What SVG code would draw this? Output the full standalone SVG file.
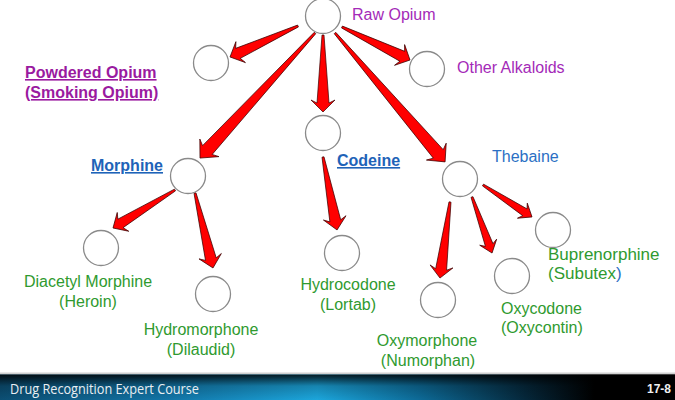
<svg xmlns="http://www.w3.org/2000/svg" width="675" height="400" viewBox="0 0 675 400">
<style>
.nd{fill:#fff;stroke:#8a8a8a;stroke-width:1.3}
.ar{fill:#ff0000;stroke:#3a0000;stroke-width:0.7;stroke-linejoin:miter}
text{font-family:"Liberation Sans",Arial,sans-serif;font-size:16px}
.pu{fill:#a42ab8}
.pb{fill:#9a1aa0;font-weight:bold;text-decoration:underline}
.bb{fill:#1e63b8;font-weight:bold;text-decoration:underline}
.bl{fill:#2b6fc4}
.gr{fill:#2f9a2f}
.c{text-anchor:middle}
</style>
<defs>
<linearGradient id="bar" x1="0" y1="0" x2="1" y2="0">
<stop offset="0" stop-color="#0c4f74"/>
<stop offset="0.25" stop-color="#1276a8"/>
<stop offset="0.47" stop-color="#1ca6dc"/>
<stop offset="0.62" stop-color="#0d6b98"/>
<stop offset="0.78" stop-color="#05273a"/>
<stop offset="0.88" stop-color="#000"/>
<stop offset="1" stop-color="#000"/>
</linearGradient>
<linearGradient id="shade" x1="0" y1="0" x2="0" y2="1">
<stop offset="0" stop-color="#000" stop-opacity="0.85"/>
<stop offset="0.45" stop-color="#000" stop-opacity="0.2"/>
<stop offset="1" stop-color="#000" stop-opacity="0"/>
</linearGradient>
</defs>
<rect width="675" height="400" fill="#fff"/>

<g id="connectors">
<polygon class="ar" transform="translate(298,26) rotate(155.5)" points="0,-1 66,-5.5 63,-11.5 74.7,0 63,11.5 66,5.5 0,1"/>
<polygon class="ar" transform="translate(342,27) rotate(25.9)" points="0,-1 67,-5.5 64,-11.5 75.6,0 64,11.5 67,5.5 0,1"/>
<polygon class="ar" transform="translate(323,35) rotate(90)" points="0,-1 68,-6 65,-12 77,0 65,12 68,6 0,1"/>
<polygon class="ar" transform="translate(315,33) rotate(132.6)" points="0,-1 159,-6.5 156,-13 169.9,0 156,13 159,6.5 0,1"/>
<polygon class="ar" transform="translate(335,33) rotate(49.5)" points="0,-1 159,-6.5 156,-13 169.5,0 156,13 159,6.5 0,1"/>
<polygon class="ar" transform="translate(175,190) rotate(148.5)" points="0,-1 64,-5 61,-11 72.7,0 61,11 64,5 0,1"/>
<polygon class="ar" transform="translate(195,193) rotate(76.5)" points="0,-1 68,-5.5 65,-11.5 77.1,0 65,11.5 68,5.5 0,1"/>
<polygon class="ar" transform="translate(323,157) rotate(79.1)" points="0,-1 65,-5.5 62,-11.5 74.3,0 62,11.5 65,5.5 0,1"/>
<polygon class="ar" transform="translate(450,202) rotate(97.5)" points="0,-1 68,-5.5 65,-11.5 76.7,0 65,11.5 68,5.5 0,1"/>
<polygon class="ar" transform="translate(472,197) rotate(70.3)" points="0,-1 51,-4 48,-9 59.5,0 48,9 51,4 0,1"/>
<polygon class="ar" transform="translate(483,185) rotate(33.1)" points="0,-1 50,-4 47,-9 58.5,0 47,9 50,4 0,1"/>
</g>

<g id="raw-opium"><circle class="nd" cx="323" cy="16" r="17.5"/><text class="pu" x="352" y="20">Raw Opium</text></g>
<g id="powdered-opium"><circle class="nd" cx="211" cy="63" r="17.5"/><text class="pb" x="25" y="78">Powdered Opium</text><text class="pb" x="25" y="98">(Smoking Opium)</text></g>
<g id="other-alkaloids"><circle class="nd" cx="427" cy="69" r="17.5"/><text class="pu" x="457" y="73">Other Alkaloids</text></g>
<g id="morphine"><circle class="nd" cx="188" cy="176" r="17.5"/><text class="bb" x="91" y="171">Morphine</text></g>
<g id="codeine"><circle class="nd" cx="323" cy="133" r="17.5"/><text class="bb" x="337" y="166">Codeine</text></g>
<g id="thebaine"><circle class="nd" cx="460" cy="179" r="17.5"/><text class="bl" x="492" y="162">Thebaine</text></g>
<g id="heroin"><circle class="nd" cx="101" cy="248" r="17.5"/><text class="gr c" x="88" y="287">Diacetyl Morphine</text><text class="gr c" x="88" y="307">(Heroin)</text></g>
<g id="hydromorphone"><circle class="nd" cx="213" cy="294" r="17.5"/><text class="gr c" x="201" y="335">Hydromorphone</text><text class="gr c" x="201" y="355">(Dilaudid)</text></g>
<g id="hydrocodone"><circle class="nd" cx="342" cy="253" r="17.5"/><text class="gr c" x="348" y="290">Hydrocodone</text><text class="gr c" x="348" y="310">(Lortab)</text></g>
<g id="oxymorphone"><circle class="nd" cx="438" cy="300" r="17.5"/><text class="gr c" x="427" y="346">Oxymorphone</text><text class="gr c" x="428" y="366">(Numorphan)</text></g>
<g id="oxycodone"><circle class="nd" cx="512" cy="276" r="17.5"/><text class="gr" x="501" y="314">Oxycodone</text><text class="gr" x="501" y="333">(Oxycontin)</text></g>
<g id="buprenorphine"><circle class="nd" cx="553" cy="230" r="17.5"/><text class="gr" x="548" y="260" style="font-size:17px">Buprenorphine</text><text class="gr" x="548" y="279" style="font-size:17px">(Subutex<tspan class="bl">)</tspan></text></g>

<g id="footer">
<rect x="0" y="372.5" width="675" height="2" fill="#d0d0d0"/>
<rect x="0" y="374.5" width="675" height="25.5" fill="url(#bar)"/>
<rect x="0" y="374.5" width="675" height="25.5" fill="url(#shade)"/>
<text x="10" y="394" fill="#e8eef2" style="font-family:'Open Sans','DejaVu Sans',sans-serif;font-size:14px" textLength="189" lengthAdjust="spacingAndGlyphs">Drug Recognition Expert Course</text>
<text x="671" y="393" fill="#f0f0f0" text-anchor="end" style="font-size:12px;font-weight:bold">17-8</text>
</g>
</svg>
